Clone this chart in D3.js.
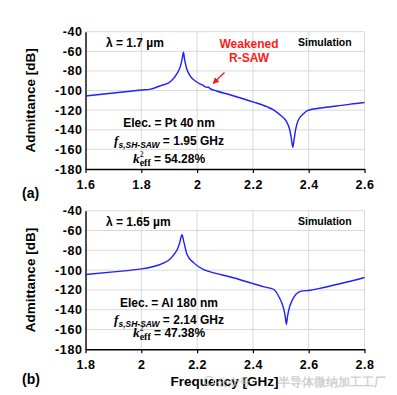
<!DOCTYPE html>
<html>
<head>
<meta charset="utf-8">
<script src="https://cdn.jsdelivr.net/npm/d3@7"></script>
<style>
  body { margin: 0; background: #fff; }
  text { font-family: "Liberation Sans", Arial, sans-serif; font-weight: bold; }
</style>
</head>
<body>
<svg id="chart" width="397" height="395"></svg>
<script>
// Panel (a): lambda = 1.7 um, Pt 40 nm
const freqA = [1.6, 1.7, 1.8, 1.833, 1.87, 1.905, 1.929, 1.94, 1.947, 1.951, 1.955, 1.962, 1.975, 2.0, 2.02, 2.036, 2.04, 2.045, 2.07, 2.12, 2.2, 2.25, 2.275, 2.3, 2.32, 2.332, 2.338, 2.343, 2.348, 2.353, 2.362, 2.38, 2.395, 2.45, 2.5, 2.55, 2.6];
const admA = [-105.5, -102.5, -99.5, -98.5, -95, -90.7, -82.2, -75.4, -67, -60.8, -68, -77, -85, -91.5, -94.5, -96.8, -96.3, -97.8, -100.5, -104.5, -111.5, -116.5, -120, -125.5, -131.5, -140, -149, -157.8, -149, -140, -130.5, -124, -120.5, -117.5, -115.8, -113.8, -112.2];

// Panel (b): lambda = 1.65 um, Al 180 nm
const freqB = [1.8, 1.9, 2.0, 2.033, 2.081, 2.1, 2.117, 2.13, 2.138, 2.143, 2.146, 2.152, 2.164, 2.188, 2.224, 2.26, 2.32, 2.39, 2.44, 2.475, 2.495, 2.511, 2.516, 2.52, 2.524, 2.529, 2.54, 2.571, 2.606, 2.65, 2.7, 2.75, 2.8];
const admB = [-104.5, -101.8, -98.8, -97.1, -92.7, -89.5, -84.3, -78.5, -72, -66, -64.2, -71, -84.3, -92.7, -99.4, -102.8, -107, -112.8, -117, -119.6, -128, -139.7, -147, -154.8, -147, -139.7, -131, -121.5, -120.3, -117.8, -114.5, -111.3, -107.5];

const xTicksA = [1.6, 1.8, 2.0, 2.2, 2.4, 2.6];
const xTicksB = [1.8, 2.0, 2.2, 2.4, 2.6, 2.8];
const yTicks = [-40, -60, -80, -100, -120, -140, -160, -180];

const svg = d3.select("#chart");

function drawPanel(cfg) {
    const x = d3.scaleLinear().domain(cfg.xDomain).range([85.5, 364.5]);
    const y = d3.scaleLinear().domain([-180, -40]).range(cfg.yRange);
    const g = svg.append("g");

    // grid
    g.selectAll(".vgrid").data(cfg.xTicks.slice(1)).enter().append("line")
        .attr("x1", d => x(d)).attr("x2", d => x(d))
        .attr("y1", y(-40)).attr("y2", y(-180))
        .attr("stroke", "#d9d9d9").attr("stroke-width", 1);
    g.selectAll(".hgrid").data(yTicks.slice(0, -1)).enter().append("line")
        .attr("x1", x.range()[0]).attr("x2", x.range()[1])
        .attr("y1", d => y(d)).attr("y2", d => y(d))
        .attr("stroke", "#d9d9d9").attr("stroke-width", 1);

    // axes
    const xAxis = d3.axisBottom(x).tickValues(cfg.xTicks).tickSize(4).tickSizeOuter(0)
        .tickFormat(d => String(+d.toFixed(1)));
    const gx = g.append("g").attr("transform", "translate(0," + y(-180) + ")").call(xAxis);
    gx.select(".domain").attr("stroke", "#000").attr("stroke-width", 1.4);
    gx.selectAll(".tick line").attr("stroke", "#000").attr("stroke-width", 1.2);
    gx.selectAll(".tick text").attr("font-size", 12.5).attr("fill", "#000")
        .attr("font-family", "Liberation Sans, Arial").attr("font-weight", "bold")
        .attr("letter-spacing", 0.5)
        .attr("y", 11).attr("dy", "0.71em");

    const yAxis = d3.axisLeft(y).tickValues(yTicks).tickSize(0).tickPadding(3)
        .tickFormat(d => String(d));
    const gy = g.append("g").attr("transform", "translate(" + x.range()[0] + ",0)").call(yAxis);
    gy.select(".domain").attr("stroke", "#000").attr("stroke-width", 1.4);
    gy.selectAll(".tick text").attr("font-size", 12.5).attr("fill", "#000")
        .attr("font-family", "Liberation Sans, Arial").attr("font-weight", "bold")
        .attr("letter-spacing", 0.6);

    // curve
    const line = d3.line().x((d, i) => x(cfg.freq[i])).y(d => y(d)).curve(d3.curveMonotoneX);
    g.append("path").datum(cfg.adm).attr("d", line)
        .attr("fill", "none").attr("stroke", "#1f1fff").attr("stroke-width", 1.4);

    // y title
    const yMid = (y(-40) + y(-180)) / 2;
    g.append("text").attr("transform", "translate(35," + yMid + ") rotate(-90)")
        .attr("text-anchor", "middle").attr("font-size", 13.5).text("Admittance [dB]");

    // labels
    g.append("text").attr("x", 106).attr("y", y(-40) + 15).attr("font-size", 12).text(cfg.lambda);
    g.append("text").attr("x", 298).attr("y", y(-40) + 14).attr("font-size", 10.5).text("Simulation");
    g.append("text").attr("x", 22).attr("y", cfg.tagY).attr("font-size", 14).text(cfg.tag);

    // material annotation
    const cx = 169;
    g.append("text").attr("x", cx).attr("y", cfg.noteY[0]).attr("text-anchor", "middle")
        .attr("font-size", 12).text(cfg.elec);
    const t2 = g.append("text").attr("x", cx).attr("y", cfg.noteY[1]).attr("text-anchor", "middle").attr("font-size", 12);
    t2.append("tspan").attr("font-style", "italic").attr("font-family", "Liberation Serif, Times New Roman").attr("font-size", 13).text("f");
    t2.append("tspan").attr("font-style", "italic").attr("font-size", 8.5).attr("dy", 3).text("s,SH-SAW");
    t2.append("tspan").attr("dy", -3).text(" = " + cfg.fs);
    const t3 = g.append("text").attr("x", cx).attr("y", cfg.noteY[2]).attr("text-anchor", "middle").attr("font-size", 12);
    t3.append("tspan").attr("font-style", "italic").attr("font-family", "Liberation Serif, Times New Roman").attr("font-size", 13.5).text("k");
    t3.append("tspan").attr("font-size", 8).attr("font-family", "Liberation Serif, Times New Roman").attr("font-weight", "normal").attr("dy", -6).text("2");
    t3.append("tspan").attr("font-size", 10).attr("font-family", "Liberation Serif, Times New Roman").attr("dx", -4).attr("dy", 9).text("eff");
    t3.append("tspan").attr("dy", -3).text(" = " + cfg.k2);

    return { x, y, g };
}

drawPanel({
    xDomain: [1.6, 2.6], yRange: [169, 31.7], xTicks: xTicksA, freq: freqA, adm: admA,
    lambda: "\u03bb = 1.7 \u00b5m", tag: "(a)", tagY: 198,
    elec: "Elec. = Pt 40 nm", fs: "1.95 GHz", k2: "54.28%", noteY: [127, 145, 163]
});

drawPanel({
    xDomain: [1.8, 2.8], yRange: [349.3, 210.7], xTicks: xTicksB, freq: freqB, adm: admB,
    lambda: "\u03bb = 1.65 \u00b5m", tag: "(b)", tagY: 384,
    elec: "Elec. = Al 180 nm", fs: "2.14 GHz", k2: "47.38%", noteY: [307, 324, 337]
});

// Weakened R-SAW annotation
svg.append("defs").append("marker").attr("id", "arrow").attr("viewBox", "0 0 10 10")
    .attr("refX", 8).attr("refY", 5).attr("markerWidth", 5).attr("markerHeight", 5).attr("orient", "auto")
    .append("path").attr("d", "M0,0 L10,5 L0,10 z").attr("fill", "#ff1a1a");
svg.append("line").attr("x1", 224.5).attr("y1", 72.5).attr("x2", 213.5).attr("y2", 83)
    .attr("stroke", "#ff1a1a").attr("stroke-width", 1.3).attr("marker-end", "url(#arrow)");
svg.append("text").attr("x", 249).attr("y", 47.5).attr("text-anchor", "middle")
    .attr("font-size", 12).attr("fill", "#ff1a1a").text("Weakened");
svg.append("text").attr("x", 249).attr("y", 62.3).attr("text-anchor", "middle")
    .attr("font-size", 12).attr("fill", "#ff1a1a").text("R-SAW");

// x title
svg.append("text").attr("x", 224.5).attr("y", 386).attr("text-anchor", "middle")
    .attr("font-size", 13.5).text("Frequency [GHz]");

// watermark
svg.append("circle").attr("cx", 209).attr("cy", 381).attr("r", 4.5)
    .attr("fill", "none").attr("stroke", "#c4c4c4").attr("stroke-width", 1.2);
svg.append("text").attr("x", 217).attr("y", 385.5).attr("font-size", 11)
    .attr("font-family", "Noto Sans CJK SC").attr("font-weight", "normal")
    .attr("fill", "#c4c4c4").attr("fill-opacity", 0.7).text("\u516c\u4f17\u53f7 \u00b7");
svg.append("text").attr("x", 278).attr("y", 385.5).attr("font-size", 11.5)
    .attr("font-family", "Noto Sans CJK SC").attr("font-weight", "normal")
    .attr("fill", "#c4c4c4").attr("fill-opacity", 0.8).text("\u534a\u5bfc\u4f53\u5fae\u7eb3\u52a0\u5de5\u5de5\u5382");
</script>
</body>
</html>
